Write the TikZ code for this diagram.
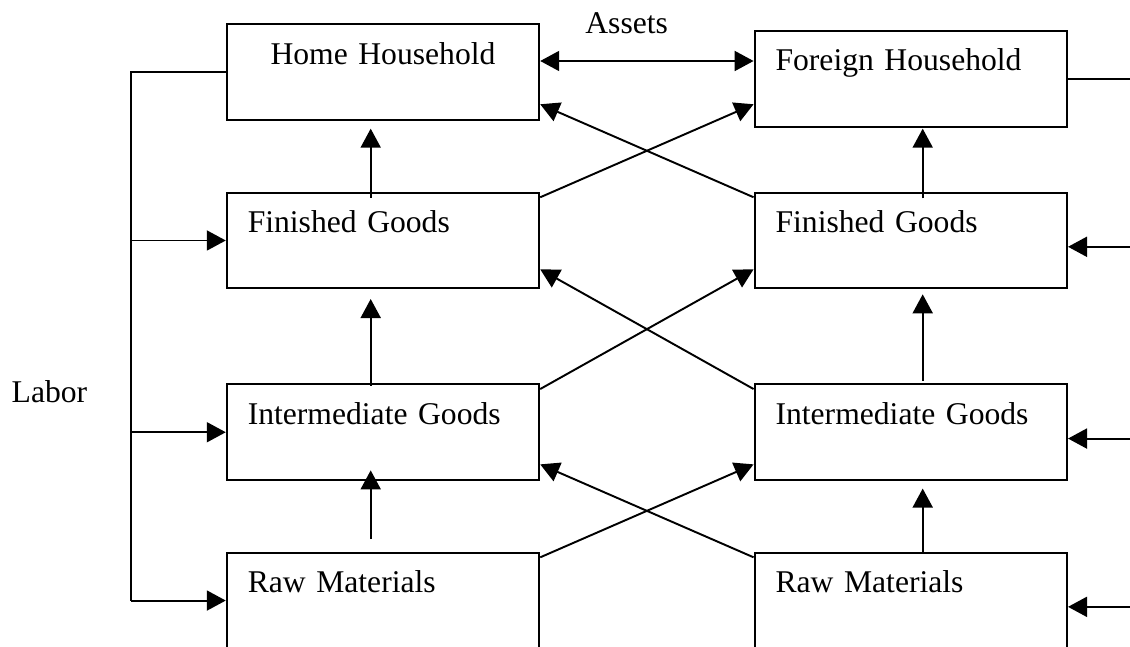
\documentclass[tikz,border=0pt]{standalone}
\usepackage{fontspec}
\setmainfont{Liberation Serif}
\usetikzlibrary{arrows.meta, positioning}

\begin{document}
\begin{tikzpicture}[line width=1.1pt, >={Triangle[length=0.38cm, width=0.4cm]},
    box/.style={draw, text width=5.41cm, inner xsep=0.42cm, inner ysep=0pt, text height=0.8cm, text depth=1.114cm, align=left, font=\fontsize{18}{22}\selectfont},
    lbl/.style={font=\fontsize{18}{22}\selectfont}]
    \useasboundingbox (0,0) rectangle (22.6,-12.94);

    \node[box, align=center] (hh) at (7.66,-1.443) {Home Household};
    \node[box] (fh) at (18.216,-1.577) {Foreign Household};

    \node[box] (hf) at (7.66,-4.81) {Finished Goods};
    \node[box] (ff) at (18.216,-4.81) {Finished Goods};

    \node[box] (hi) at (7.66,-8.645) {Intermediate Goods};
    \node[box] (fi) at (18.216,-8.645) {Intermediate Goods};

    \node[box] (hr) at (7.66,-12.011) {Raw Materials};
    \node[box] (fr) at (18.216,-12.011) {Raw Materials};

    \coordinate (A) at ([yshift=0.223cm]hh.east);
    \draw[<->] (A) -- (A -| fh.west);
    \node[lbl, anchor=base] (assets) at (12.534,-0.667) {Assets};

    \coordinate (B) at (2.62,0);
    \draw (hh.west) -- (hh.west -| B) -- (hr.west -| B);
    \foreach \n in {hf, hi, hr}
        \draw[->] (\n.west -| B) -- (\n.west);
    \node[lbl, anchor=base] (labor) at (0.99,-8.053) {Labor};

    \draw (fh.east) -- ++(1.3,0);
    \foreach \n in {ff, fi, fr}
        \draw[<-] ([yshift=-0.126cm]\n.east) -- ++(1.3,0);

    \draw[->] ([xshift=-0.246cm, yshift=-0.126cm]hf.north) -- ([xshift=-0.246cm, yshift=-0.154cm]hh.south);
    \draw[->] ([xshift=-0.246cm, yshift=-0.05cm]hi.north) -- ([xshift=-0.246cm, yshift=-0.194cm]hf.south);
    \draw[->] ([xshift=-0.246cm, yshift=0.254cm]hr.north) -- ([xshift=-0.246cm, yshift=0.214cm]hi.south);

    \draw[->] ([xshift=0.238cm, yshift=-0.132cm]ff.north) -- ([xshift=0.238cm, yshift=-0.02cm]fh.south);
    \draw[->] ([xshift=0.238cm, yshift=0.056cm]fi.north) -- ([xshift=0.238cm, yshift=-0.1cm]ff.south);
    \draw[->] ([xshift=0.238cm]fr.north) -- ([xshift=0.238cm, yshift=-0.15cm]fi.south);

    \draw[->] ([yshift=-0.112cm]hf.north east) -- ([yshift=0.468cm]fh.south west);
    \draw[->] ([yshift=-0.112cm]ff.north west) -- ([yshift=0.334cm]hh.south east);
    \draw[->] ([yshift=-0.112cm]hi.north east) -- ([yshift=0.4cm]ff.south west);
    \draw[->] ([yshift=-0.112cm]fi.north west) -- ([yshift=0.4cm]hf.south east);
    \draw[->] ([yshift=-0.112cm]hr.north east) -- ([yshift=0.334cm]fi.south west);
    \draw[->] ([yshift=-0.112cm]fr.north west) -- ([yshift=0.334cm]hi.south east);
\end{tikzpicture}
\end{document}
